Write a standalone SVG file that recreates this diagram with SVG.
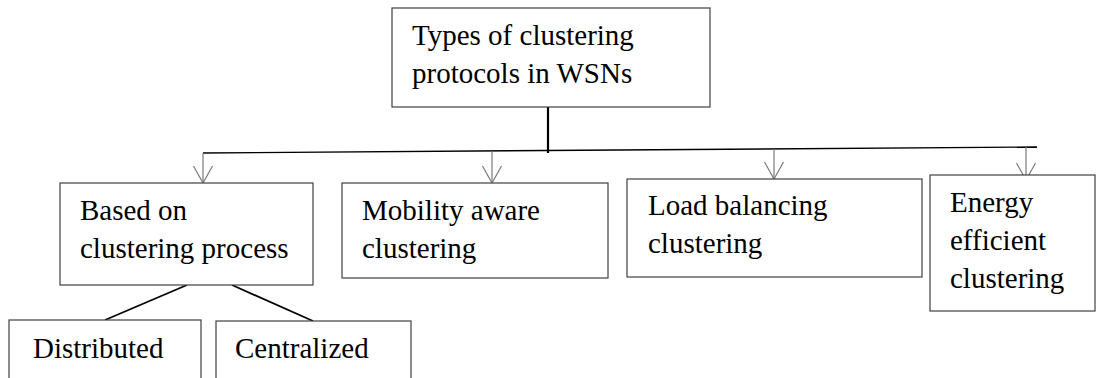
<svg xmlns="http://www.w3.org/2000/svg" width="1096" height="378" viewBox="0 0 1096 378">
  <style>
    .box { fill: #ffffff; stroke: #404040; stroke-width: 1.2; }
    .label { font-family: 'Liberation Serif', 'DejaVu Serif', 'Times New Roman', serif; font-size: 29px; fill: #000000; }
    .trunk { stroke: #000000; stroke-width: 2.2; fill: none; }
    .bus { stroke: #000000; stroke-width: 1.4; fill: none; }
    .branch { stroke: #000000; stroke-width: 1.8; fill: none; }
    .drop { stroke: #7a7a7a; stroke-width: 1.2; fill: none; }
  </style>
  <defs>
    <!-- open V arrowhead, tip at the line end -->
    <marker id="openV" markerUnits="userSpaceOnUse" markerWidth="22" markerHeight="24" viewBox="-20 -12 22 24" refX="0" refY="0" orient="auto">
      <path d="M -17 -9.5 L 0 0 L -17 9.5" fill="none" stroke="#7a7a7a" stroke-width="1.2"/>
    </marker>
  </defs>
  <rect width="1096" height="378" fill="#ffffff"/>

  <g id="connectors">
    <line class="trunk" x1="548" y1="107" x2="548" y2="153"/>
    <line class="bus" x1="203" y1="153" x2="1037" y2="147"/>
    <line class="drop" x1="203" y1="153" x2="203" y2="183" marker-end="url(#openV)"/>
    <line class="drop" x1="492" y1="151" x2="492" y2="183" marker-end="url(#openV)"/>
    <line class="drop" x1="774" y1="149" x2="774" y2="179" marker-end="url(#openV)"/>
    <line class="drop" x1="1026" y1="147" x2="1026" y2="180" marker-end="url(#openV)"/>
    <line class="branch" x1="187" y1="285" x2="105" y2="320"/>
    <line class="branch" x1="232" y1="285" x2="313" y2="321"/>
  </g>

  <g id="root">
    <rect class="box" x="392" y="8" width="318" height="99"/>
    <text class="label" x="412" y="45">Types of clustering</text>
    <text class="label" x="412" y="83">protocols in WSNs</text>
  </g>

  <g id="process">
    <rect class="box" x="60" y="183" width="253" height="102"/>
    <text class="label" x="80" y="220">Based on</text>
    <text class="label" x="80" y="258">clustering process</text>
  </g>

  <g id="mobility">
    <rect class="box" x="342" y="183" width="266" height="95"/>
    <text class="label" x="362" y="220">Mobility aware</text>
    <text class="label" x="362" y="258">clustering</text>
  </g>

  <g id="load">
    <rect class="box" x="627" y="179" width="295" height="98"/>
    <text class="label" x="648" y="215">Load balancing</text>
    <text class="label" x="648" y="253">clustering</text>
  </g>

  <g id="energy">
    <rect class="box" x="930" y="175" width="165" height="136"/>
    <text class="label" x="950" y="212">Energy</text>
    <text class="label" x="950" y="250">efficient</text>
    <text class="label" x="950" y="288">clustering</text>
  </g>

  <g id="distributed">
    <rect class="box" x="9" y="320" width="192" height="70"/>
    <text class="label" x="33" y="358">Distributed</text>
  </g>

  <g id="centralized">
    <rect class="box" x="216" y="321" width="195" height="70"/>
    <text class="label" x="235" y="358">Centralized</text>
  </g>
</svg>
